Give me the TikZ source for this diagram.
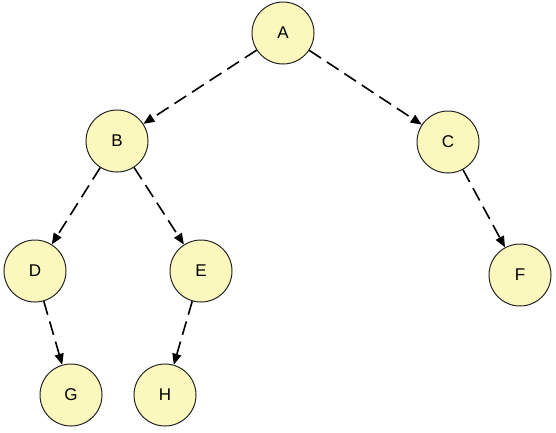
\documentclass[tikz,border=0pt]{standalone}
\usepackage{fontspec}
\setmainfont{Liberation Sans}
\usetikzlibrary{arrows.meta}
\definecolor{nodefill}{RGB}{250,248,188}
\tikzset{
  treenode/.style={circle, draw=black!85, line width=1pt, fill=nodefill, minimum size=62pt, inner sep=0pt, font=\fontsize{17}{19}\selectfont},
  treeedge/.style={-{Triangle[length=11pt, width=9pt]}, dash pattern=on 14pt off 7pt, line width=1.6pt}
}
\begin{document}
\begin{tikzpicture}[x=1pt, y=-1pt]
\useasboundingbox (0, 0) rectangle (556, 432);
\node [treenode] (A) at (283, 33) {A};
\node [treenode] (B) at (117, 141) {B};
\node [treenode] (C) at (448, 142) {C};
\node [treenode] (D) at (35, 271) {D};
\node [treenode] (E) at (201, 271) {E};
\node [treenode] (F) at (520, 275) {F};
\node [treenode] (G) at (71, 395) {G};
\node [treenode] (H) at (165, 395) {H};
\draw [treeedge] (A) to (B);
\draw [treeedge] (A) to (C);
\draw [treeedge] (B) to (D);
\draw [treeedge] (B) to (E);
\draw [treeedge] (C) to (F);
\draw [treeedge] (D) to (G);
\draw [treeedge] (E) to (H);
\end{tikzpicture}
\end{document}
